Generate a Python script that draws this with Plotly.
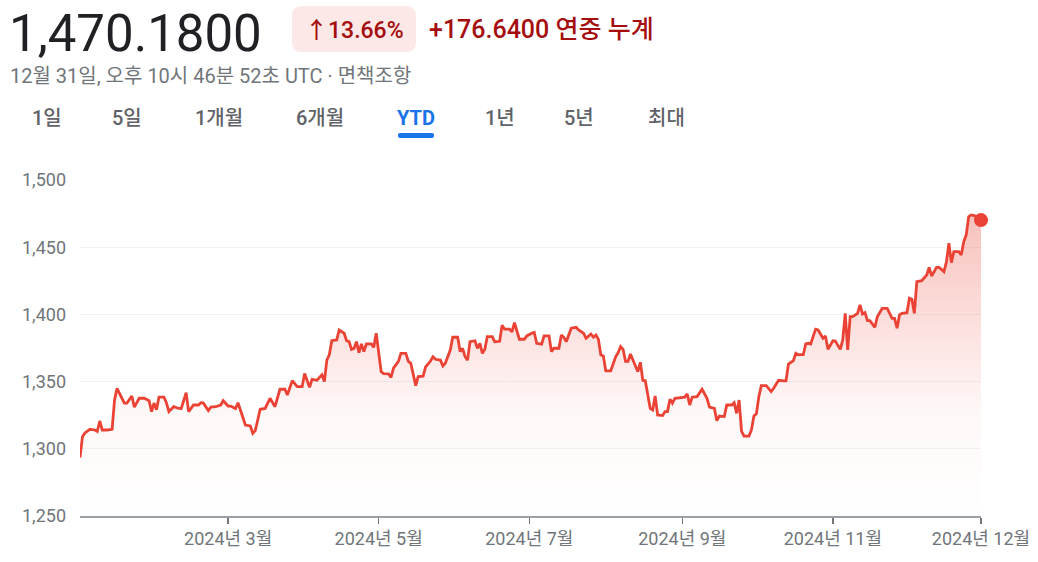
import plotly.graph_objects as go

# ---------------- data ----------------
dates = [
    "2024-01-01", "2024-01-02", "2024-01-03", "2024-01-05", "2024-01-07", "2024-01-08", "2024-01-09", "2024-01-10",
    "2024-01-12", "2024-01-14", "2024-01-15", "2024-01-16", "2024-01-18", "2024-01-19", "2024-01-20", "2024-01-22",
    "2024-01-23", "2024-01-25", "2024-01-27", "2024-01-29", "2024-01-30", "2024-01-31", "2024-02-01", "2024-02-02",
    "2024-02-04", "2024-02-05", "2024-02-06", "2024-02-08", "2024-02-10", "2024-02-11", "2024-02-13", "2024-02-14",
    "2024-02-16", "2024-02-18", "2024-02-19", "2024-02-20", "2024-02-22", "2024-02-23", "2024-02-25", "2024-02-27",
    "2024-02-28", "2024-03-01", "2024-03-02", "2024-03-04", "2024-03-05", "2024-03-06", "2024-03-08", "2024-03-10",
    "2024-03-11", "2024-03-12", "2024-03-14", "2024-03-16", "2024-03-18", "2024-03-20", "2024-03-22", "2024-03-24",
    "2024-03-25", "2024-03-27", "2024-03-29", "2024-03-31", "2024-04-01", "2024-04-03", "2024-04-04", "2024-04-06",
    "2024-04-08", "2024-04-09", "2024-04-10", "2024-04-11", "2024-04-12", "2024-04-14", "2024-04-15", "2024-04-17",
    "2024-04-18", "2024-04-19", "2024-04-20", "2024-04-21", "2024-04-22", "2024-04-23", "2024-04-24", "2024-04-25",
    "2024-04-26", "2024-04-28", "2024-04-29", "2024-04-30", "2024-05-01", "2024-05-02", "2024-05-03", "2024-05-05",
    "2024-05-06", "2024-05-07", "2024-05-09", "2024-05-10", "2024-05-12", "2024-05-13", "2024-05-14", "2024-05-15",
    "2024-05-16", "2024-05-17", "2024-05-19", "2024-05-20", "2024-05-22", "2024-05-23", "2024-05-24", "2024-05-26",
    "2024-05-27", "2024-05-28", "2024-05-30", "2024-05-31", "2024-06-02", "2024-06-03", "2024-06-04", "2024-06-05",
    "2024-06-06", "2024-06-07", "2024-06-09", "2024-06-10", "2024-06-11", "2024-06-12", "2024-06-13", "2024-06-14",
    "2024-06-16", "2024-06-17", "2024-06-19", "2024-06-20", "2024-06-21", "2024-06-23", "2024-06-24", "2024-06-25",
    "2024-06-26", "2024-06-27", "2024-06-29", "2024-06-30", "2024-07-02", "2024-07-03", "2024-07-04", "2024-07-06",
    "2024-07-07", "2024-07-09", "2024-07-10", "2024-07-11", "2024-07-13", "2024-07-14", "2024-07-15", "2024-07-16",
    "2024-07-18", "2024-07-20", "2024-07-21", "2024-07-23", "2024-07-24", "2024-07-26", "2024-07-27", "2024-07-28",
    "2024-07-29", "2024-07-30", "2024-07-31", "2024-08-01", "2024-08-03", "2024-08-05", "2024-08-06", "2024-08-07",
    "2024-08-08", "2024-08-09", "2024-08-10", "2024-08-11", "2024-08-13", "2024-08-14", "2024-08-15", "2024-08-16",
    "2024-08-17", "2024-08-18", "2024-08-19", "2024-08-20", "2024-08-21", "2024-08-22", "2024-08-24", "2024-08-25",
    "2024-08-26", "2024-08-27", "2024-08-28", "2024-08-29", "2024-08-31", "2024-09-02", "2024-09-03", "2024-09-04",
    "2024-09-05", "2024-09-07", "2024-09-09", "2024-09-11", "2024-09-12", "2024-09-14", "2024-09-15", "2024-09-16",
    "2024-09-18", "2024-09-19", "2024-09-21", "2024-09-22", "2024-09-23", "2024-09-24", "2024-09-25", "2024-09-26",
    "2024-09-28", "2024-09-29", "2024-09-30", "2024-10-01", "2024-10-02", "2024-10-03", "2024-10-05", "2024-10-07",
    "2024-10-08", "2024-10-10", "2024-10-12", "2024-10-13", "2024-10-14", "2024-10-16", "2024-10-17", "2024-10-18",
    "2024-10-20", "2024-10-21", "2024-10-22", "2024-10-23", "2024-10-25", "2024-10-26", "2024-10-28", "2024-10-29",
    "2024-10-30", "2024-11-01", "2024-11-02", "2024-11-04", "2024-11-05", "2024-11-06", "2024-11-07", "2024-11-08",
    "2024-11-09", "2024-11-11", "2024-11-12", "2024-11-13", "2024-11-14", "2024-11-15", "2024-11-16", "2024-11-18",
    "2024-11-19", "2024-11-21", "2024-11-23", "2024-11-25", "2024-11-26", "2024-11-27", "2024-11-28", "2024-11-29",
    "2024-12-01", "2024-12-02", "2024-12-03", "2024-12-04", "2024-12-05", "2024-12-07", "2024-12-09", "2024-12-10",
    "2024-12-11", "2024-12-13", "2024-12-14", "2024-12-16", "2024-12-17", "2024-12-18", "2024-12-19", "2024-12-20",
    "2024-12-22", "2024-12-23", "2024-12-24", "2024-12-25", "2024-12-26", "2024-12-27", "2024-12-29", "2024-12-31",
]
rates = [
    1293.5, 1309.0, 1311.8, 1314.5, 1314.0, 1313.0, 1320.7, 1314.0,
    1314.0, 1314.5, 1336.3, 1345.0, 1337.6, 1334.0, 1334.0, 1339.3,
    1331.0, 1337.6, 1337.6, 1335.8, 1327.7, 1334.0, 1329.0, 1338.5,
    1338.5, 1334.3, 1327.7, 1331.3, 1330.0, 1329.9, 1341.7, 1327.7,
    1332.6, 1332.6, 1334.3, 1334.0, 1328.5, 1331.0, 1331.3, 1332.6,
    1335.8, 1331.8, 1331.8, 1329.9, 1334.3, 1328.9, 1317.7, 1317.0,
    1311.5, 1313.5, 1329.4, 1330.0, 1337.6, 1331.3, 1344.3, 1344.3,
    1340.0, 1350.7, 1346.2, 1346.2, 1356.0, 1345.7, 1351.7, 1351.0,
    1355.0, 1350.0, 1366.0, 1370.0, 1380.4, 1381.0, 1388.4, 1386.0,
    1380.4, 1379.7, 1374.0, 1374.7, 1379.7, 1371.5, 1378.0, 1372.3,
    1378.0, 1378.0, 1375.5, 1386.0, 1372.3, 1357.4, 1356.0, 1355.7,
    1353.2, 1360.0, 1365.0, 1371.0, 1371.0, 1365.0, 1363.6, 1355.0,
    1347.0, 1353.7, 1354.0, 1361.0, 1365.3, 1368.5, 1366.6, 1366.0,
    1361.6, 1363.6, 1373.5, 1383.0, 1383.0, 1372.3, 1374.8, 1368.5,
    1366.0, 1379.7, 1380.4, 1374.8, 1378.5, 1371.0, 1374.0, 1383.5,
    1383.5, 1379.7, 1380.0, 1392.0, 1389.0, 1389.0, 1387.0, 1393.8,
    1387.0, 1381.5, 1381.5, 1384.0, 1386.0, 1386.7, 1378.5, 1377.8,
    1384.0, 1384.0, 1372.3, 1374.8, 1374.8, 1384.7, 1383.0, 1379.7,
    1389.7, 1390.4, 1388.4, 1386.0, 1382.2, 1385.4, 1383.0, 1384.7,
    1381.5, 1369.8, 1369.0, 1358.0, 1358.0, 1368.5, 1371.5, 1376.0,
    1374.0, 1365.0, 1365.0, 1370.5, 1361.6, 1357.4, 1364.4, 1351.0,
    1350.6, 1338.8, 1330.0, 1328.9, 1339.3, 1325.2, 1324.7, 1327.7,
    1327.7, 1336.8, 1334.0, 1337.6, 1338.0, 1338.4, 1340.8, 1332.6,
    1338.4, 1338.8, 1344.3, 1337.6, 1331.0, 1330.0, 1320.9, 1324.4,
    1324.0, 1332.6, 1332.6, 1334.3, 1326.4, 1336.3, 1312.9, 1309.5,
    1309.5, 1314.0, 1324.4, 1326.0, 1338.8, 1347.0, 1347.0, 1342.6,
    1345.0, 1351.0, 1350.5, 1350.5, 1363.0, 1365.6, 1371.0, 1370.0,
    1370.0, 1378.0, 1378.5, 1378.0, 1389.0, 1388.4, 1382.2, 1384.0,
    1374.0, 1380.4, 1380.2, 1374.0, 1381.0, 1400.8, 1373.5, 1398.3,
    1398.3, 1400.8, 1407.0, 1400.3, 1401.3, 1395.3, 1395.3, 1390.4,
    1398.3, 1404.5, 1404.5, 1397.0, 1397.0, 1389.7, 1399.6, 1400.8,
    1401.3, 1412.0, 1411.2, 1400.8, 1424.3, 1425.1, 1429.3, 1435.0,
    1428.6, 1435.0, 1435.0, 1431.8, 1439.2, 1452.9, 1438.5, 1446.7,
    1446.7, 1444.2, 1454.0, 1459.0, 1472.7, 1474.0, 1473.2, 1470.18,
]

y_ticks = [1250, 1300, 1350, 1400, 1450, 1500]
x_tick_dates = ["2024-03-01", "2024-05-01", "2024-07-01", "2024-09-01", "2024-11-01", "2024-12-31"]
x_tick_labels = ["2024년 3월", "2024년 5월", "2024년 7월", "2024년 9월", "2024년 11월", "2024년 12월"]

price_text = "1,470.1800"
pct_text = "↑13.66%"
change_text = "+176.6400 연중 누계"
subtitle_text = "12월 31일, 오후 10시 46분 52초 UTC · 면책조항"
tabs = ["1일", "5일", "1개월", "6개월", "YTD", "1년", "5년", "최대"]
tab_centers = [47, 127, 219, 320, 416, 500, 579, 666]
active_tab = "YTD"

# ---------------- styling / layout ----------------
W, H = 1038, 562
ML, MT = 80, 180
MR = W - 981
MB = H - 516
PW, PH = W - ML - MR, H - MT - MB
RED = "#ea4335"
FONT = "Roboto, 'Noto Sans CJK KR', Arial, sans-serif"


def px_x(X):
    return (X - ML) / PW


def px_y(Y):
    return (H - MB - Y) / PH


fig = go.Figure()
fig.add_trace(go.Scatter(
    x=dates, y=rates, mode="lines",
    line=dict(color=RED, width=2.8),
    fill="tozeroy",
    fillgradient=dict(
        type="vertical", start=1250, stop=1475,
        colorscale=[[0, "rgba(234,67,53,0)"], [0.35, "rgba(234,67,53,0.04)"], [1, "rgba(234,67,53,0.33)"]],
    ),
    hoverinfo="skip", showlegend=False,
))
fig.add_trace(go.Scatter(
    x=[dates[-1]], y=[rates[-1]], mode="markers",
    marker=dict(color=RED, size=14),
    cliponaxis=False, showlegend=False, hoverinfo="skip",
))

annotations = [
    dict(text=price_text, x=px_x(8), y=px_y(33), xanchor="left", yanchor="middle",
         font=dict(size=51, color="#202124", family=FONT)),
    dict(text=pct_text, x=px_x(354), y=px_y(30), xanchor="center", yanchor="middle",
         font=dict(size=23, color="#a50e0e", family=FONT, weight=500)),
    dict(text=change_text, x=px_x(428), y=px_y(29), xanchor="left", yanchor="middle",
         font=dict(size=25, color="#a50e0e", family=FONT, weight=500)),
    dict(text=subtitle_text, x=px_x(9), y=px_y(76), xanchor="left", yanchor="middle",
         font=dict(size=20, color="#70757a", family=FONT)),
]
for t, cx in zip(tabs, tab_centers):
    act = t == active_tab
    annotations.append(dict(
        text=t, x=px_x(cx), y=px_y(118), xanchor="center", yanchor="middle",
        font=dict(size=20, color="#1a73e8" if act else "#5f6368", family=FONT, weight=700 if act else 500),
    ))
for a in annotations:
    a.update(xref="paper", yref="paper", showarrow=False, borderpad=0)


def rounded_rect(X0, Y0, X1, Y1, r):
    x0, x1 = px_x(X0), px_x(X1)
    y0, y1 = px_y(Y1), px_y(Y0)
    rx, ry = r / PW, r / PH
    return (f"M {x0+rx},{y0} L {x1-rx},{y0} Q {x1},{y0} {x1},{y0+ry} "
            f"L {x1},{y1-ry} Q {x1},{y1} {x1-rx},{y1} L {x0+rx},{y1} "
            f"Q {x0},{y1} {x0},{y1-ry} L {x0},{y0+ry} Q {x0},{y0} {x0+rx},{y0} Z")


shapes = [
    dict(type="path", xref="paper", yref="paper", path=rounded_rect(292, 6, 416, 52, 10),
         fillcolor="#fce8e6", line=dict(width=0), layer="below"),
    dict(type="path", xref="paper", yref="paper", path=rounded_rect(398, 133, 434, 138, 2),
         fillcolor="#1a73e8", line=dict(width=0)),
]

fig.update_layout(
    width=W, height=H, autosize=False,
    margin=dict(l=ML, r=MR, t=MT, b=MB, pad=0, autoexpand=False),
    paper_bgcolor="white", plot_bgcolor="white",
    annotations=annotations, shapes=shapes,
    font=dict(family=FONT),
    hovermode=False,
    xaxis=dict(
        type="date", range=[dates[0], dates[-1]],
        tickvals=x_tick_dates, ticktext=x_tick_labels,
        showgrid=False, zeroline=False,
        showline=True, linecolor="#9aa0a6", linewidth=1.5,
        ticks="outside", ticklen=6, tickwidth=1.5, tickcolor="#70757a",
        tickfont=dict(size=18, color="#70757a", family=FONT),
        automargin=False, fixedrange=True,
    ),
    yaxis=dict(
        range=[1250, 1500], tickvals=y_ticks, tickformat=",",
        showgrid=True, gridcolor="#f1f3f4", gridwidth=1, zeroline=False,
        showline=False, ticks="",
        ticklabelstandoff=13,
        tickfont=dict(size=18, color="#70757a", family=FONT),
        automargin=False, fixedrange=True,
    ),
)

fig.write_html(
    "out.html",
    config={"displayModeBar": False, "staticPlot": True},
    post_script="document.body.style.margin='0';document.body.style.overflow='hidden';",
)
